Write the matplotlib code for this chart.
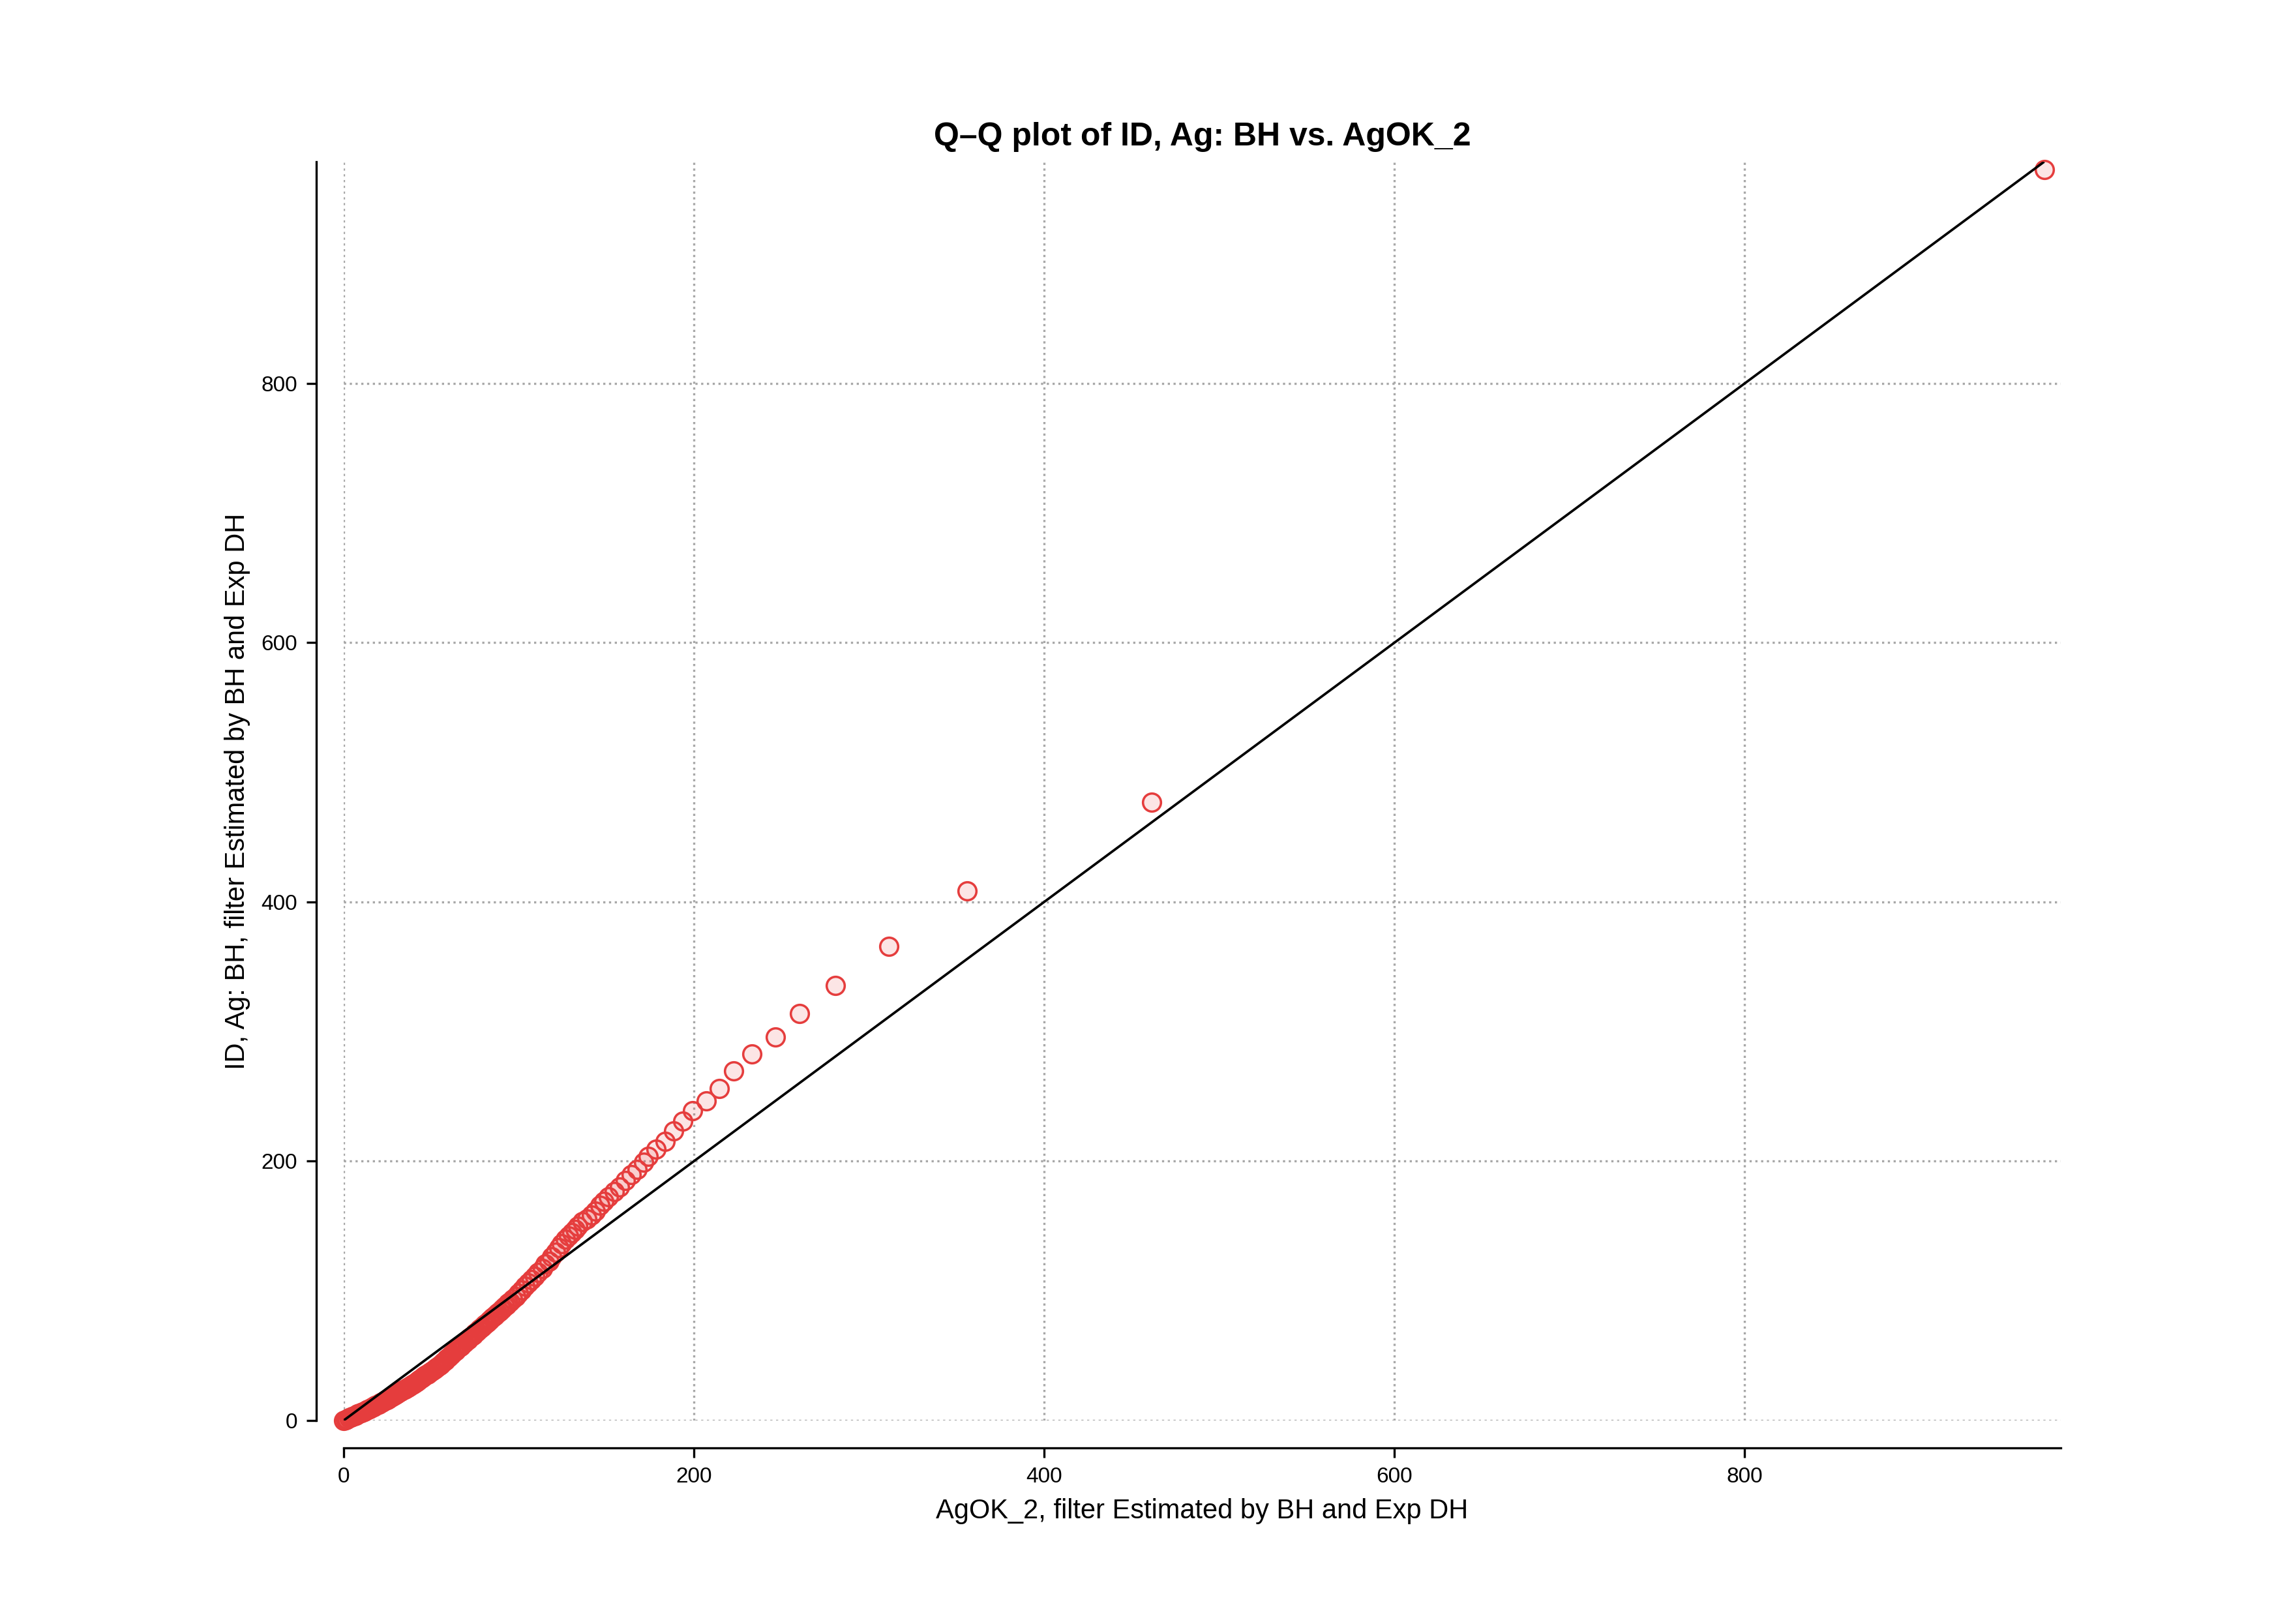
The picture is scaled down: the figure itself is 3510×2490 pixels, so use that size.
import matplotlib
matplotlib.use("Agg")
import matplotlib.pyplot as plt

plt.rcParams['font.family'] = ['Liberation Sans', 'DejaVu Sans']

title = "Q\u2013Q plot of ID, Ag: BH vs. AgOK_2"
x_label = "AgOK_2, filter Estimated by BH and Exp DH"
y_label = "ID, Ag: BH, filter Estimated by BH and Exp DH"

# quantiles of AgOK_2 (x) and ID (y)
q_agok = [
    0, 1, 2, 3, 4, 5, 6, 7, 8, 9, 10, 11, 12,
    13, 14, 15, 16, 17, 18, 19, 20, 21, 22, 23, 24, 25,
    26, 27, 28, 29, 30, 31, 32, 33, 34, 35, 36, 37, 38, 39, 40,
    41, 42, 43, 44, 45, 46, 47, 48, 49, 50, 51, 52, 53, 54, 55,
    56, 57, 58, 59, 60, 61, 62, 63, 64, 65, 66, 67, 68, 69, 70,
    71, 72, 73, 74, 75, 76, 77, 78, 79, 80, 81, 82, 83, 84, 85,
    86, 87, 88, 89, 90, 91, 92, 93, 94, 95,
    96.6, 98.2, 100.0, 101.8, 103.6, 105.4, 107.3, 109.2, 111.1,
    113.5, 115.3, 117.2, 119.0, 120.9, 122.8, 124.6, 126.5, 128.4,
    130.2, 132.1, 133.9, 136.4, 138.9, 141.4, 143.9, 146.4, 148.6,
    151.3, 154.4, 157.4, 160.9, 164.4, 167.8, 171.4, 174.1, 178.5,
    183.5, 188.3, 193.8, 199.3, 207.0, 214.7, 222.6, 233.0, 246.4,
    260.5, 281.0, 311.5, 356.2, 461.5, 971.0,
]
q_id = [
    0.0, 0.6, 1.2, 1.8, 2.4, 3.0, 3.6, 4.2, 4.8, 5.4, 6.0, 6.6, 7.2,
    7.9, 8.6, 9.3, 10.0, 10.7, 11.4, 12.1, 12.8, 13.5, 14.2, 14.9, 15.6, 16.3,
    17.1, 17.9, 18.7, 19.5, 20.3, 21.1, 21.9, 22.7, 23.5, 24.3, 25.1, 25.9, 26.7, 27.5, 28.3,
    29.3, 30.2, 31.2, 32.1, 33.1, 34.0, 35.0, 35.9, 36.9, 37.8, 38.8, 39.7, 40.7, 41.6, 42.6,
    43.8, 45.1, 46.3, 47.6, 48.8, 50.1, 51.3, 52.6, 53.8, 55.1, 56.3, 57.6, 58.8, 60.1, 61.3,
    62.5, 63.7, 64.9, 66.1, 67.3, 68.5, 69.7, 70.9, 72.1, 73.3, 74.5, 75.7, 76.9, 78.1, 79.3,
    80.5, 81.7, 82.9, 84.1, 85.3, 86.6, 87.9, 89.2, 90.5, 91.8,
    93.4, 95.6, 98.2, 100.8, 103.4, 106.0, 108.6, 111.2, 114.0,
    117.1, 120.5, 123.0, 126.4, 129.7, 133.1, 136.4, 139.8, 142.3,
    144.8, 147.3, 149.8, 153.2, 155.7, 158.3, 161.6, 165.8, 169.0,
    172.4, 176.6, 180.1, 184.9, 189.5, 193.9, 199.2, 203.6, 209.5,
    215.4, 223.2, 230.7, 238.8, 246.5, 256.2, 269.7, 282.7, 295.9,
    313.8, 335.4, 365.6, 408.7, 476.7, 965.2,
]
ref_line = [0.0, 971.0]
x_ticks = [0, 200, 400, 600, 800]
y_ticks = [0, 200, 400, 600, 800]
x_limits = [0, 980.5]
y_limits = [0, 971.0]

fig = plt.figure(figsize=(11.7, 8.3), dpi=300)
ax = fig.add_axes([0.1501, 0.1253, 0.7502, 0.7751])

ax.scatter(q_agok, q_id, s=44, marker='o',
           facecolors=(0.91, 0.24, 0.24, 0.13),
           edgecolors='#e53d3d', linewidths=0.85,
           clip_on=False, zorder=3)
ax.plot(ref_line, ref_line, color='black', lw=0.9, zorder=4,
        solid_capstyle='butt')

ax.set_xlim(x_limits)
ax.set_ylim(y_limits)
ax.set_xticks(x_ticks)
ax.set_yticks(y_ticks)
ax.tick_params(axis='both', labelsize=8, length=3.5, width=0.8,
               direction='out', color='black')
ax.grid(True, linestyle=':', color='#a8a8a8', linewidth=0.8)
ax.set_axisbelow(True)

for side in ['top', 'right']:
    ax.spines[side].set_visible(False)
for side in ['left', 'bottom']:
    ax.spines[side].set_position(('outward', 10))
    ax.spines[side].set_linewidth(0.8)

ax.set_title(title, fontsize=12, fontweight='bold', pad=6)
ax.set_xlabel(x_label, fontsize=10)
ax.set_ylabel(y_label, fontsize=10)

fig.savefig("out.png", dpi=300)
